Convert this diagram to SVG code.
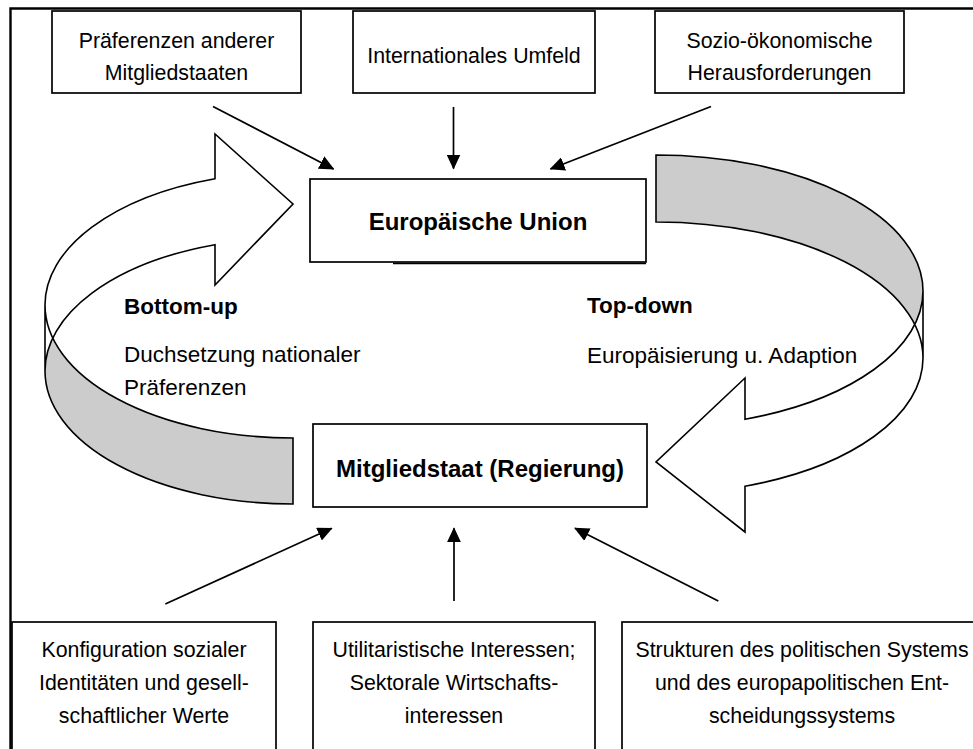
<svg xmlns="http://www.w3.org/2000/svg" width="973" height="749" viewBox="0 0 973 749">
<style>
.box{fill:#fff;stroke:#000;stroke-width:1.7}
.t{font-family:"Liberation Sans",Arial,sans-serif;font-size:21.33px;fill:#000;text-anchor:middle}
.tb{font-family:"Liberation Sans",Arial,sans-serif;font-size:24px;font-weight:bold;fill:#000;text-anchor:middle}
.lb{font-family:"Liberation Sans",Arial,sans-serif;font-size:22.5px;fill:#000}
.lbb{font-family:"Liberation Sans",Arial,sans-serif;font-size:22.5px;font-weight:bold;fill:#000}
.con{stroke:#000;stroke-width:1.7;fill:none;marker-end:url(#ah)}
.outl{fill:none;stroke:#000;stroke-width:1.6;stroke-linejoin:miter}
</style>
<defs>
<marker id="ah" viewBox="0 0 15 14" refX="14" refY="7" markerWidth="15" markerHeight="14" markerUnits="userSpaceOnUse" orient="auto">
<path d="M0,0 L15,7 L0,14 Z" fill="#000"/>
</marker>
</defs>
<rect width="973" height="749" fill="#fff"/>
<!-- outer frame -->
<path d="M10.5,749 L10.5,8.5 L973,8.5" fill="none" stroke="#000" stroke-width="2.4"/>

<!-- curved arrows -->
<g id="arrow-bottom-up">
<path d="M45,371 A248,133 0 0 1 215,244.7 L215,285 L293,204 L215,134 L215,178.7 A248,133 0 0 0 45,305 Z" fill="#fff"/>
<path d="M52.8,338 A248,133 0 0 0 293,438 L293,504 A248,133 0 0 1 45,371 A248,133 0 0 1 52.8,338 Z" fill="#cccccc"/>
<path class="outl" d="M45,305 A248,133 0 0 1 215,178.7 L215,134 L293,204 L215,285 L215,244.7 A248,133 0 0 0 45,371 L45,305 A248,133 0 0 0 293,438 L293,504 A248,133 0 0 1 45,371"/>
</g>
<g id="arrow-top-down">
<path d="M923,291 A267,136 0 0 1 745,419.2 L745,378 L656,462 L745,532 L745,486.2 A267,136 0 0 0 923,358 Z" fill="#fff"/>
<path d="M914.8,324.5 A267,136 0 0 0 656,222 L656,155 A267,136 0 0 1 923,291 A267,136 0 0 1 914.8,324.5 Z" fill="#cccccc"/>
<path class="outl" d="M923,358 A267,136 0 0 1 745,486.2 L745,532 L656,462 L745,378 L745,419.2 A267,136 0 0 0 923,291 L923,358 A267,136 0 0 0 656,222 L656,155 A267,136 0 0 1 923,291"/>
</g>

<!-- top boxes -->
<g id="praeferenzen">
<rect class="box" x="52" y="11" width="249" height="82"/>
<text class="t" x="176.5" y="48">Präferenzen anderer</text>
<text class="t" x="176.5" y="80">Mitgliedstaaten</text>
</g>
<g id="international">
<rect class="box" x="353" y="11" width="242" height="82"/>
<text class="t" x="474" y="63">Internationales Umfeld</text>
</g>
<g id="sozio">
<rect class="box" x="655" y="11" width="249" height="82"/>
<text class="t" x="779.5" y="48">Sozio-ökonomische</text>
<text class="t" x="779.5" y="80">Herausforderungen</text>
</g>

<!-- central boxes -->
<g id="eu">
<rect class="box" x="310" y="179" width="336" height="83"/>
<line x1="393" y1="263.5" x2="646" y2="263.5" stroke="#000" stroke-width="1.3"/>
<text class="tb" x="478" y="230">Europäische Union</text>
</g>
<g id="mitgliedstaat">
<rect class="box" x="313" y="424" width="334" height="83"/>
<text class="tb" x="480" y="477">Mitgliedstaat (Regierung)</text>
</g>

<!-- labels -->
<g id="label-bottom-up">
<text class="lbb" x="124" y="314">Bottom-up</text>
<text class="lb" x="124" y="362">Duchsetzung nationaler</text>
<text class="lb" x="124" y="395">Präferenzen</text>
</g>
<g id="label-top-down">
<text class="lbb" x="587" y="313">Top-down</text>
<text class="lb" x="587" y="363">Europäisierung u. Adaption</text>
</g>

<!-- bottom boxes -->
<g id="konfiguration">
<rect class="box" x="12" y="622" width="264" height="140"/>
<text class="t" x="144" y="657">Konfiguration sozialer</text>
<text class="t" x="144" y="690">Identitäten und gesell-</text>
<text class="t" x="144" y="723">schaftlicher Werte</text>
</g>
<g id="utilitaristisch">
<rect class="box" x="313" y="622" width="282" height="140"/>
<text class="t" x="454" y="657">Utilitaristische Interessen;</text>
<text class="t" x="454" y="690">Sektorale Wirtschafts-</text>
<text class="t" x="454" y="723">interessen</text>
</g>
<g id="strukturen">
<rect class="box" x="622" y="622" width="362" height="140"/>
<text class="t" x="802" y="657">Strukturen des politischen Systems</text>
<text class="t" x="802" y="690">und des europapolitischen Ent-</text>
<text class="t" x="802" y="723">scheidungssystems</text>
</g>

<!-- connectors -->
<g id="connectors">
<line class="con" x1="213" y1="106.5" x2="333.5" y2="169"/>
<line class="con" x1="453.5" y1="107" x2="453.5" y2="168.5"/>
<line class="con" x1="711" y1="106.5" x2="550.5" y2="169"/>
<line class="con" x1="165.3" y1="604" x2="331.7" y2="528.3"/>
<line class="con" x1="454" y1="601" x2="454" y2="528.3"/>
<line class="con" x1="718.3" y1="601" x2="575" y2="528.3"/>
</g>
</svg>
